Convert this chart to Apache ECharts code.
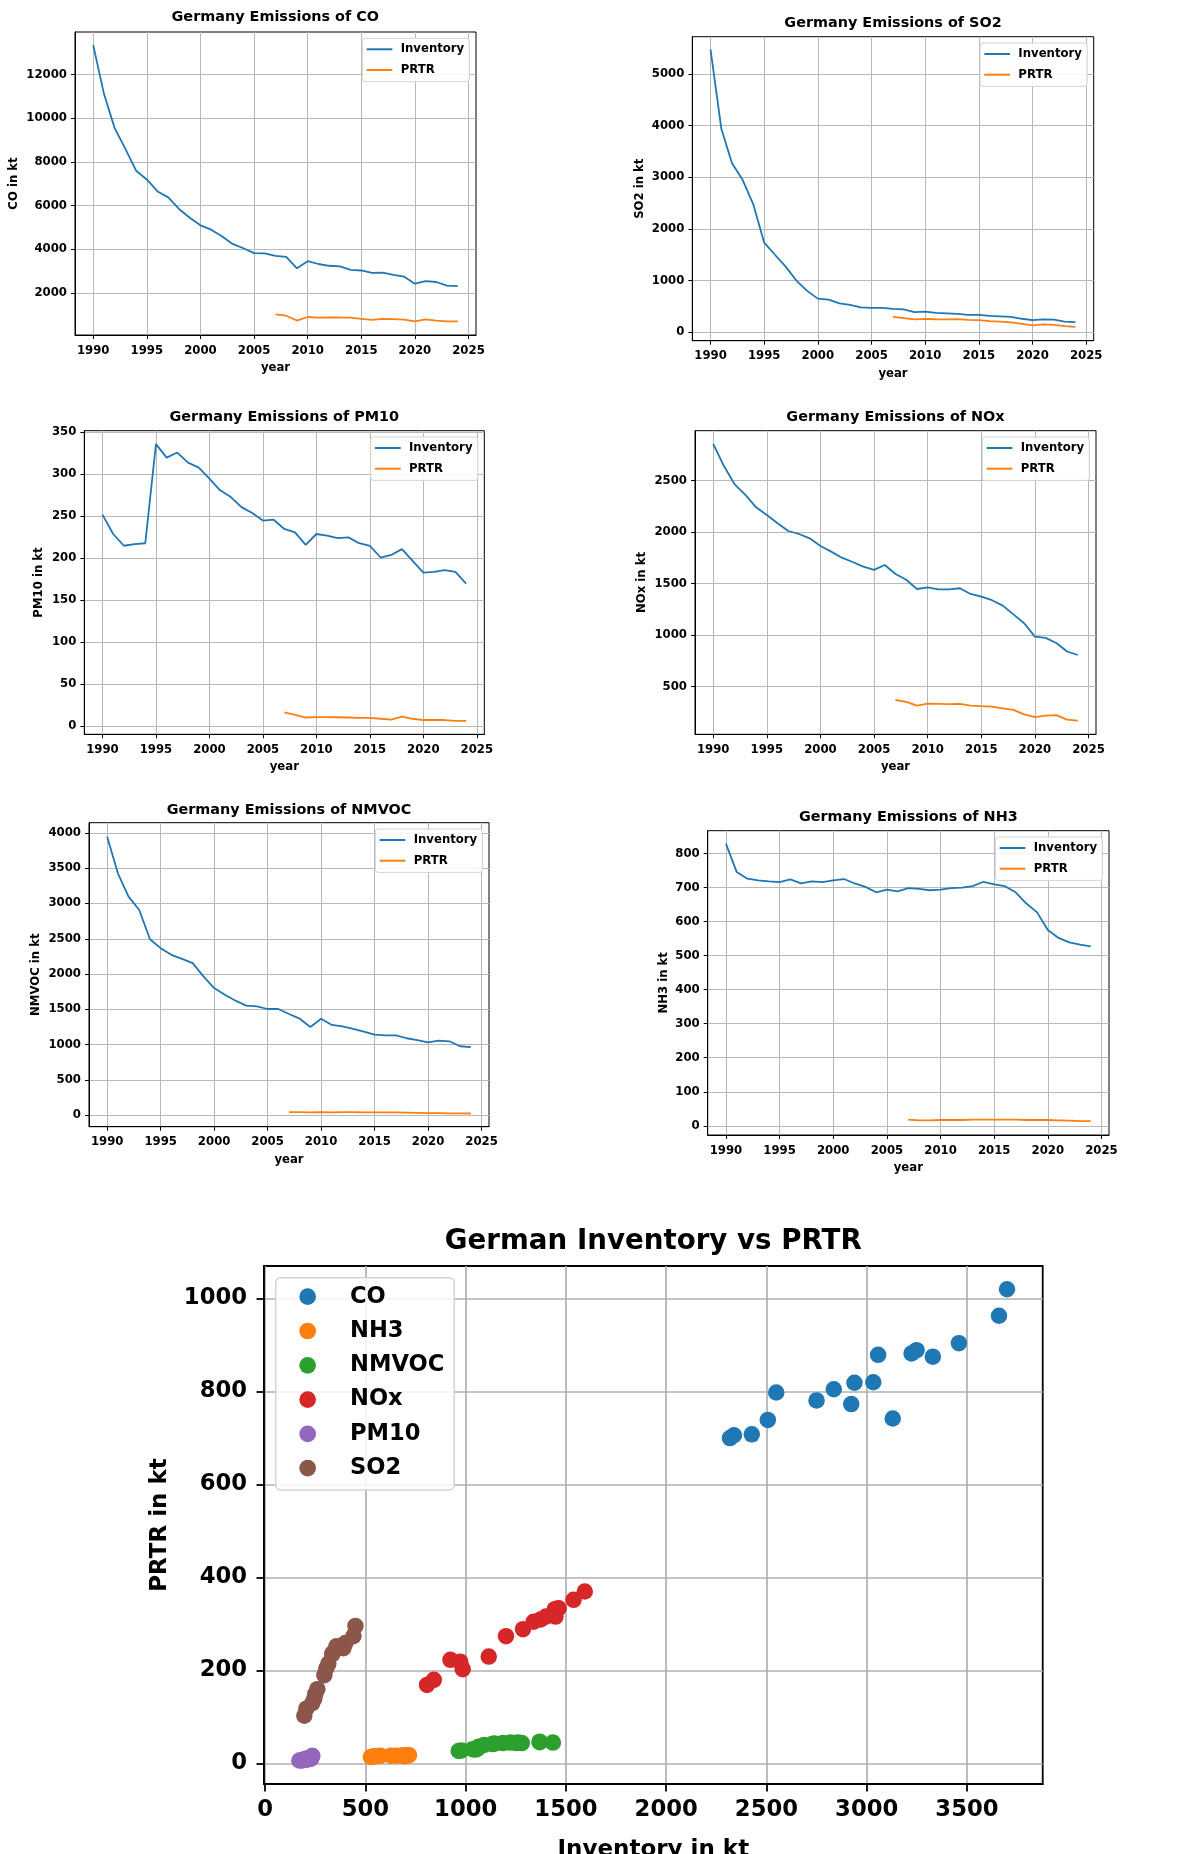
<!DOCTYPE html>
<html><head><meta charset="utf-8">
<script src="https://cdn.jsdelivr.net/npm/echarts@6/dist/echarts.min.js"></script>
<style>html,body{margin:0;padding:0;background:#fff;overflow:hidden}#c{width:1199px;height:1854px}</style>
</head><body><div id="c"></div>
<script>
// ---------------- data ----------------
const years = [1990,1991,1992,1993,1994,1995,1996,1997,1998,1999,2000,2001,2002,2003,2004,2005,2006,2007,2008,2009,2010,2011,2012,2013,2014,2015,2016,2017,2018,2019,2020,2021,2022,2023,2024];
const prtrYears = [2007,2008,2009,2010,2011,2012,2013,2014,2015,2016,2017,2018,2019,2020,2021,2022,2023,2024];

const CO_inv = [13350,11120,9550,8600,7600,7200,6650,6380,5850,5450,5100,4900,4600,4250,4050,3830,3820,3700,3660,3130,3460,3330,3249,3224,3057,3033,2923,2939,2836,2750,2427,2549,2507,2338,2318];
const CO_prtr = [1020,963,742,904,875,889,882,879,820,773,819,805,781,708,798,739,706,700];

const SO2_inv = [5477,3948,3271,2948,2465,1735,1500,1270,1000,800,650,630,560,530,480,470,470,450,440,390,400,375,365,355,335,335,315,305,295,260,235,250,245,205,195];
const SO2_prtr = [296,274,248,259,251,250,252,237,235,215,205,190,160,130,150,140,118,103];

const PM10_inv = [252,229,215,217,218,336,320,326,314,308,295,281,273,261,254,245,246,235,231,216,229,227,224,225,218,215,201,204,211,197,183,184,186,184,170];
const PM10_prtr = [16.6,13.5,10.5,11,11,10.8,10.5,10,10,9,8,11.5,9,7.5,7.5,7.5,6.5,6.5];

const NOx_inv = [2856,2642,2464,2361,2241,2167,2086,2011,1982,1940,1866,1811,1752,1710,1665,1633,1681,1594,1538,1448,1464,1445,1445,1455,1400,1374,1339,1286,1201,1115,985,973,924,841,807];
const NOx_prtr = [370,352,316,334,332,330,333,316,310,305,289,274,230,203,219,223,180,169];

const NMVOC_inv = [3944,3426,3096,2908,2494,2367,2273,2216,2155,1967,1802,1708,1624,1553,1544,1506,1506,1435,1369,1252,1369,1280,1261,1224,1186,1144,1134,1134,1092,1064,1035,1059,1049,979,965];
const NMVOC_prtr = [45,46,44,47,44,45,45,44,43,42,42,40,36,31,32,30,28,27];

const NH3_inv = [829,746,726,721,718,716,724,712,718,716,721,725,712,702,686,694,689,698,696,692,694,698,700,704,717,709,704,686,653,627,575,552,539,532,527];
const NH3_prtr = [18,16,16,17,17,17,18,18,18,18,18,17,17,17,16,15,14,14];

// tick labels
const yearTicks = [1990,1995,2000,2005,2010,2015,2020,2025];
const CO_ticks = [2000,4000,6000,8000,10000,12000];
const SO2_ticks = [0,1000,2000,3000,4000,5000];
const PM10_ticks = [0,50,100,150,200,250,300,350];
const NOx_ticks = [500,1000,1500,2000,2500];
const NMVOC_ticks = [0,500,1000,1500,2000,2500,3000,3500,4000];
const NH3_ticks = [0,100,200,300,400,500,600,700,800];
const scatterXTicks = [0,500,1000,1500,2000,2500,3000,3500];
const scatterYTicks = [0,200,400,600,800,1000];

const scatterOrder = ['CO','NH3','NMVOC','NOx','PM10','SO2'];

// ---------------- layout / style ----------------
const FONT = 'DejaVu Sans';
const W = 1199;
const panels = [
  {key:'CO', inv:CO_inv, prtr:CO_prtr, ticks:CO_ticks, ymin:80, ymax:13950,
   box:{left:75, top:32, width:401, height:303}, yGap:60.7, tx:275.3, ty:17.5},
  {key:'SO2', inv:SO2_inv, prtr:SO2_prtr, ticks:SO2_ticks, ymin:-165, ymax:5725,
   box:{left:692.3, top:36.7, width:401.4, height:304}, yGap:52.3, tx:893, ty:23},
  {key:'PM10', inv:PM10_inv, prtr:PM10_prtr, ticks:PM10_ticks, ymin:-9.5, ymax:352,
   box:{left:84.3, top:430.7, width:400, height:303.6}, yGap:45, tx:284.3, ty:417.2},
  {key:'NOx', inv:NOx_inv, prtr:NOx_prtr, ticks:NOx_ticks, ymin:37, ymax:2985,
   box:{left:695, top:430.7, width:401, height:303.6}, yGap:53, tx:895.5, ty:417.2},
  {key:'NMVOC', inv:NMVOC_inv, prtr:NMVOC_prtr, ticks:NMVOC_ticks, ymin:-160, ymax:4143,
   box:{left:89, top:822.7, width:400, height:304}, yGap:53.3, tx:289, ty:810},
  {key:'NH3', inv:NH3_inv, prtr:NH3_prtr, ticks:NH3_ticks, ymin:-27, ymax:867,
   box:{left:707.7, top:830.7, width:401.3, height:304.3}, yGap:43.9, tx:908.3, ty:817.5}
];
const scatterBox = {left:264, top:1266, width:778.7, height:518};
const palette = {CO:'#1f77b4', NH3:'#ff7f0e', NMVOC:'#2ca02c', NOx:'#d62728', PM10:'#9467bd', SO2:'#8c564b'};
const INV_COLOR = '#1f77b4', PRTR_COLOR = '#ff7f0e';

const txt = (size) => ({fontFamily:FONT, fontWeight:'bold', fontSize:size, color:'#000'});
const plain = (v) => String(v);

const grids = [], xAxes = [], yAxes = [], series = [], titles = [], legends = [];

panels.forEach((p, i) => {
  grids.push(Object.assign({show:true, borderColor:'#000', borderWidth:1, backgroundColor:'#fff',
    containLabel:false, outerBoundsMode:'none'}, p.box));
  xAxes.push({
    type:'value', gridIndex:i, min:1988.3, max:2025.7,
    name:'year', nameLocation:'middle', nameGap:33, nameMoveOverlap:false,
    nameTextStyle:Object.assign(txt(11.7), {verticalAlign:'middle'}),
    axisLine:{show:true, onZero:false, lineStyle:{color:'#000', width:1}},
    axisTick:{show:true, length:4, customValues:yearTicks, lineStyle:{color:'#000', width:1}},
    axisLabel:Object.assign(txt(11.7), {customValues:yearTicks, margin:15.5, verticalAlign:'middle', formatter:plain}),
    splitLine:{show:true, lineStyle:{color:'#b8b8b8', width:1}}
  });
  yAxes.push({
    type:'value', gridIndex:i, min:p.ymin, max:p.ymax,
    name:p.key + ' in kt', nameLocation:'middle', nameGap:p.yGap, nameMoveOverlap:false,
    nameTextStyle:Object.assign(txt(11.7), {verticalAlign:'middle'}),
    axisLine:{show:true, onZero:false, lineStyle:{color:'#000', width:1}},
    axisTick:{show:true, length:4, customValues:p.ticks, lineStyle:{color:'#000', width:1}},
    axisLabel:Object.assign(txt(11.7), {customValues:p.ticks, margin:8, formatter:plain}),
    splitLine:{show:true, lineStyle:{color:'#b8b8b8', width:1}}
  });
  series.push({
    type:'line', name:'Inventory', xAxisIndex:i, yAxisIndex:i,
    data: years.map((y, k) => [y, p.inv[k]]),
    symbol:'none', showSymbol:false, lineStyle:{color:INV_COLOR, width:1.8},
    itemStyle:{color:INV_COLOR}, z:3
  });
  series.push({
    type:'line', name:'PRTR', xAxisIndex:i, yAxisIndex:i,
    data: prtrYears.map((y, k) => [y, p.prtr[k]]),
    symbol:'none', showSymbol:false, lineStyle:{color:PRTR_COLOR, width:1.8},
    itemStyle:{color:PRTR_COLOR}, z:3
  });
  titles.push({
    text:'Germany Emissions of ' + p.key, left:p.tx, top:p.ty, padding:0,
    textAlign:'center', textVerticalAlign:'middle', textStyle:txt(14.4)
  });
  legends.push({
    data:['Inventory','PRTR'], orient:'vertical', selectedMode:false,
    right: W - (p.box.left + p.box.width) + 6.5, top: p.box.top + 6.3,
    icon:'rect', itemWidth:25.7, itemHeight:2, itemGap:6.7,
    padding:[4,5.3,4.7,4.3],
    backgroundColor:'rgba(255,255,255,0.85)', borderColor:'#d4d4d4', borderWidth:1, borderRadius:3,
    itemStyle:{borderWidth:0},
    textStyle:Object.assign(txt(11.7), {lineHeight:14, padding:[0,0,0,3.3]})
  });
});

// scatter panel
const si = panels.length;
grids.push(Object.assign({show:true, borderColor:'#000', borderWidth:1.8, backgroundColor:'#fff',
  containLabel:false, outerBoundsMode:'none'}, scatterBox));
xAxes.push({
  type:'value', gridIndex:si, min:-6, max:3878,
  name:'Inventory in kt', nameLocation:'middle', nameGap:66, nameMoveOverlap:false,
  nameTextStyle:Object.assign(txt(23), {verticalAlign:'middle'}),
  axisLine:{show:true, onZero:false, lineStyle:{color:'#000', width:1.8}},
  axisTick:{show:true, length:7.5, customValues:scatterXTicks, lineStyle:{color:'#000', width:1.8}},
  axisLabel:Object.assign(txt(22.7), {customValues:scatterXTicks, margin:26, verticalAlign:'middle', formatter:plain}),
  splitLine:{show:true, lineStyle:{color:'#b0b0b0', width:1.7}}
});
yAxes.push({
  type:'value', gridIndex:si, min:-44, max:1070,
  name:'PRTR in kt', nameLocation:'middle', nameGap:103.5, nameMoveOverlap:false,
  nameTextStyle:Object.assign(txt(23), {verticalAlign:'middle'}),
  axisLine:{show:true, onZero:false, lineStyle:{color:'#000', width:1.8}},
  axisTick:{show:true, length:7.5, customValues:scatterYTicks, lineStyle:{color:'#000', width:1.8}},
  axisLabel:Object.assign(txt(22.7), {customValues:scatterYTicks, margin:17, formatter:plain}),
  splitLine:{show:true, lineStyle:{color:'#b0b0b0', width:1.7}}
});
const sourceByKey = {};
panels.forEach(p => { sourceByKey[p.key] = p; });
scatterOrder.forEach(key => {
  const p = sourceByKey[key];
  const offset = years.indexOf(prtrYears[0]);
  series.push({
    type:'scatter', name:key, xAxisIndex:si, yAxisIndex:si,
    data: prtrYears.map((y, k) => [p.inv[offset + k], p.prtr[k]]),
    symbol:'circle', symbolSize:16.5, itemStyle:{color:palette[key], opacity:1}, z:4
  });
});
titles.push({
  text:'German Inventory vs PRTR', left:653.3, top:1242.2, padding:0,
  textAlign:'center', textVerticalAlign:'middle', textStyle:txt(27.7)
});
legends.push({
  data:scatterOrder, orient:'vertical', selectedMode:false,
  left:275.7, top:1277.7,
  icon:'circle', itemWidth:16.7, itemHeight:16.7, itemGap:8.3,
  padding:[6,10,8.7,23.6],
  backgroundColor:'rgba(255,255,255,0.85)', borderColor:'#d4d4d4', borderWidth:1.5, borderRadius:5,
  itemStyle:{borderWidth:0},
  textStyle:Object.assign(txt(22.6), {lineHeight:26, padding:[0,0,0,29]})
});

const chart = echarts.init(document.getElementById('c'), null, {renderer:'canvas'});
chart.setOption({
  animation:false,
  backgroundColor:'#fff',
  textStyle:{fontFamily:FONT, fontWeight:'bold'},
  title:titles, legend:legends, grid:grids, xAxis:xAxes, yAxis:yAxes, series:series
});
</script></body></html>
